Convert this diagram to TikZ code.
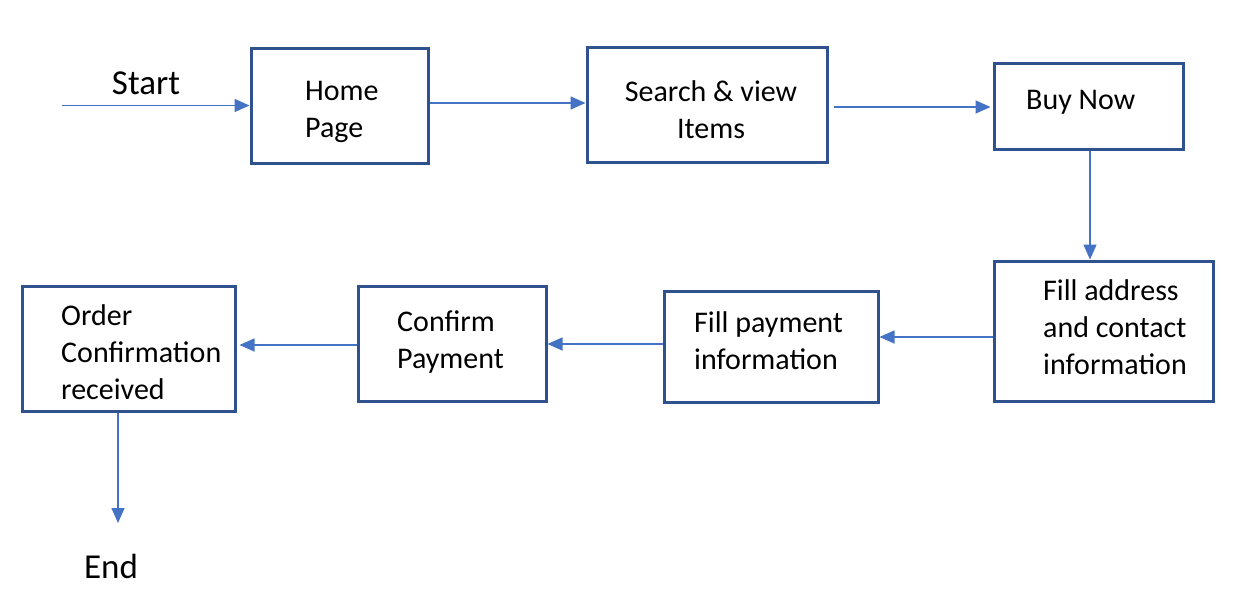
\documentclass[tikz,border=0pt]{standalone}
\usepackage{fontspec}
\setmainfont{Carlito}
\usetikzlibrary{arrows.meta,calc}
\definecolor{boxc}{HTML}{2F528F}
\definecolor{arrc}{HTML}{4472C4}
\begin{document}
\begin{tikzpicture}[x=1pt,y=-1pt,
  box/.style={draw=boxc,line width=3pt,inner sep=0pt,fill=white},
  txt/.style={inner sep=0pt,font=\fontsize{30}{37}\selectfont,align=left,anchor=west},
  big/.style={inner sep=0pt,font=\fontsize{35}{42}\selectfont,anchor=center},
  arr/.style={draw=arrc,line width=1.5pt,-{Triangle[length=15pt,width=13pt]}}]
\useasboundingbox[fill=white] (0,0) rectangle (1242,608);
% boxes
\node[box,minimum width=177pt,minimum height=115pt] (h) at (339.5,105.5) {};
\node[box,minimum width=240pt,minimum height=115pt] (s) at (707,104.5) {};
\node[box,minimum width=189pt,minimum height=86pt] (b) at (1088.5,106) {};
\node[box,minimum width=219pt,minimum height=140pt] (fa) at (1103.5,331) {};
\node[box,minimum width=214pt,minimum height=111pt] (fp) at (771,346.5) {};
\node[box,minimum width=188pt,minimum height=115pt] (cp) at (452,343.5) {};
\node[box,minimum width=213pt,minimum height=125pt] (oc) at (128.5,348.5) {};
% texts
\node[txt] (ht) at (305,111.5) {Home\\Page};
\node[txt,align=center,anchor=center] (stx) at (711,110) {Search \& view\\Items};
\node[txt] (bt) at (1026,102) {Buy Now};
\node[txt] (fat) at (1043,327.5) {Fill address\\and contact\\information};
\node[txt] (fpt) at (694,341) {Fill payment\\information};
\node[txt] (cpt) at (397,342) {Confirm\\Payment};
\node[txt] (oct) at (61,352) {Order\\Confirmation\\received};
\node[big] (st) at (146,83) {Start};
\node[big] (en) at (111,566) {End};
% connectors
\coordinate (startpt) at (62,105.5);
\coordinate (endpt) at (118,523);
\draw[arr] (startpt) -- (h.west);
\draw[arr] ([yshift=2.5pt]h.east) -- ([yshift=2.5pt]h.east -| s.west);
\draw[arr] ([xshift=5pt,yshift=-2.5pt]s.east) -- ([xshift=-2pt,yshift=-2.5pt]s.east -| b.west);
\draw[arr] ([xshift=1.5pt]b.south) -- ([xshift=1.5pt]b.south |- fa.north);
\draw[arr] ([yshift=-6pt]fa.west) -- ([yshift=-6pt]fa.west -| fp.east);
\draw[arr] ([yshift=2.5pt]fp.west) -- ([yshift=2.5pt]fp.west -| cp.east);
\draw[arr] ([yshift=-1.5pt]cp.west) -- ([xshift=3pt,yshift=-1.5pt]cp.west -| oc.east);
\draw[arr] (oc.south -| endpt) -- (endpt);
\end{tikzpicture}
\end{document}
